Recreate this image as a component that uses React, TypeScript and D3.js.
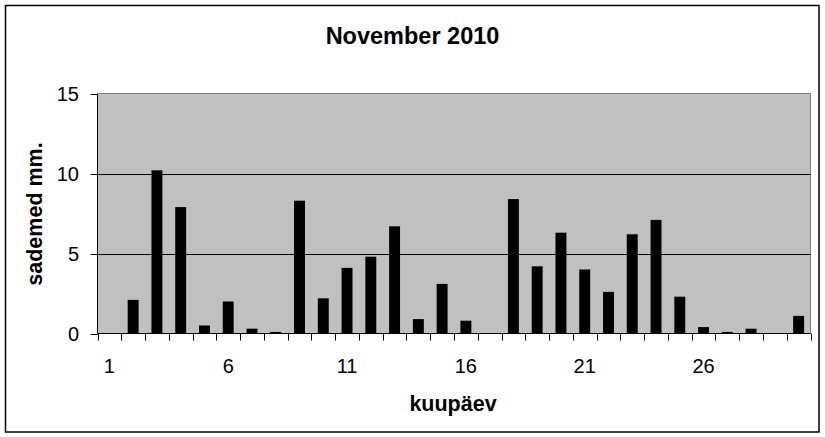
import React from "react";
import * as d3 from "d3";

const days: number[] = d3.range(1, 31);
const precipitation: number[] = [
  0, 2.1, 10.2, 7.9, 0.5, 2.0, 0.3, 0.1, 8.3, 2.2,
  4.1, 4.8, 6.7, 0.9, 3.1, 0.8, 0, 8.4, 4.2, 6.3,
  4.0, 2.6, 6.2, 7.1, 2.3, 0.4, 0.1, 0.3, 0, 1.1,
];
const yTicks: number[] = [0, 5, 10, 15];
const xLabelDays: number[] = [1, 6, 11, 16, 21, 26];
const title = "November 2010";
const yTitle = "sademed mm.";
const xTitle = "kuupäev";

const W = 825;
const H = 437;
const left = 97.5;
const right = 810.5;
const top = 93.5;
const bottom = 333.5;
const FONT = "'Liberation Sans', Arial, sans-serif";

export default function App() {
  const x = d3.scaleBand<number>().domain(days).range([left, right]).padding(0);
  const y = d3.scaleLinear().domain([0, 15]).range([bottom, top]);
  const bw = x.bandwidth() * 0.46;
  const boundaries = d3.range(0, days.length + 1).map((i) => left + i * x.step());

  return (
    <svg width={W} height={H} style={{ position: "absolute", left: 0, top: 0 }}>
      <rect x={0} y={0} width={W} height={H} fill="#fff" />
      <rect x={5.5} y={5.5} width={813.5} height={426.5} fill="none" stroke="#000" strokeWidth={1.5} />
      <text x={412.5} y={44} textAnchor="middle" fontFamily={FONT} fontWeight="bold" fontSize={23.5}>
        {title}
      </text>
      <rect x={left} y={top} width={right - left} height={bottom - top} fill="#C0C0C0" />
      <line x1={left} x2={right} y1={top} y2={top} stroke="#808080" strokeWidth={1} />
      <line x1={right} x2={right} y1={top} y2={bottom} stroke="#808080" strokeWidth={1} />
      {yTicks.filter((t) => t > 0 && t < 15).map((t) => (
        <line key={"g" + t} x1={left} x2={right} y1={Math.round(y(t)) + 0.5} y2={Math.round(y(t)) + 0.5} stroke="#000" strokeWidth={1} />
      ))}
      {precipitation.map((v, i) => {
        const cx = (x(days[i]) as number) + x.bandwidth() / 2;
        return v > 0 ? (
          <rect key={"b" + i} x={cx - bw / 2} y={y(v)} width={bw} height={y(0) - y(v)} fill="#000" />
        ) : null;
      })}
      <line x1={left} x2={left} y1={top} y2={bottom} stroke="#000" strokeWidth={1} />
      <line x1={left} x2={right} y1={bottom} y2={bottom} stroke="#000" strokeWidth={1} />
      {yTicks.map((t) => (
        <g key={"y" + t}>
          <line x1={left - 7} x2={left} y1={Math.round(y(t)) + 0.5} y2={Math.round(y(t)) + 0.5} stroke="#000" />
          <text x={79} y={y(t)} dy="0.36em" textAnchor="end" fontFamily={FONT} fontSize={20}>
            {t}
          </text>
        </g>
      ))}
      {boundaries.map((bx, i) => (
        <line key={"xt" + i} x1={Math.round(bx) + 0.5} x2={Math.round(bx) + 0.5} y1={bottom} y2={bottom + 7} stroke="#000" />
      ))}
      {xLabelDays.map((d) => (
        <text key={"xl" + d} x={(x(d) as number) + x.bandwidth() / 2} y={373} textAnchor="middle" fontFamily={FONT} fontSize={20}>
          {d}
        </text>
      ))}
      <text x={453} y={411} textAnchor="middle" fontFamily={FONT} fontWeight="bold" fontSize={21.5}>
        {xTitle}
      </text>
      <text transform={`translate(42,214) rotate(-90)`} textAnchor="middle" fontFamily={FONT} fontWeight="bold" fontSize={21.5}>
        {yTitle}
      </text>
    </svg>
  );
}
